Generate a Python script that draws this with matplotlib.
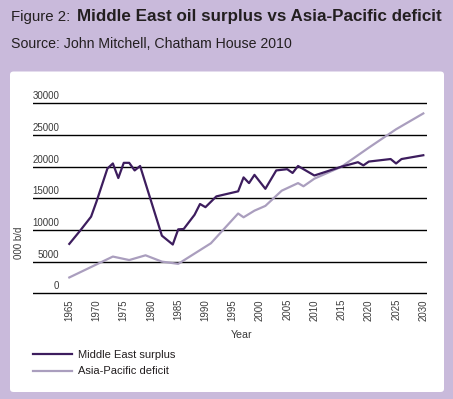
import matplotlib
matplotlib.use("Agg")
import matplotlib.pyplot as plt
from matplotlib import font_manager, transforms
from matplotlib.patches import FancyBboxPatch
from matplotlib.lines import Line2D

# ---------------- data ----------------
me_years = [1965, 1967, 1969, 1970, 1972, 1973, 1974, 1975, 1976, 1977, 1978,
            1982, 1984, 1985, 1986, 1988, 1989, 1990, 1992, 1996, 1997, 1998,
            1999, 2001, 2003, 2005, 2006, 2007, 2010, 2015, 2018, 2019, 2020,
            2024, 2025, 2026, 2030]
me_values = [7800, 9900, 12100, 14500, 19700, 20500, 18200, 20600, 20600, 19400, 20100,
             9100, 7700, 10100, 10150, 12400, 14100, 13600, 15300, 16100, 18300, 17400,
             18700, 16500, 19400, 19600, 19000, 20100, 18600, 20000, 20700, 20200, 20800,
             21200, 20500, 21200, 21800]

ap_years = [1965, 1973, 1976, 1979, 1982, 1985, 1991, 1996, 1997, 1999, 2001,
            2004, 2007, 2008, 2010, 2015, 2020, 2025, 2030]
ap_values = [2500, 5800, 5250, 6000, 5000, 4650, 7900, 12600, 12000, 13050, 13800,
             16200, 17400, 16900, 18100, 20000, 23000, 25900, 28400]

x_ticks = list(range(1965, 2031, 5))
y_ticks = [0, 5000, 10000, 15000, 20000, 25000, 30000]

series_labels = ["Middle East surplus", "Asia-Pacific deficit"]
title_light = "Figure 2: "
title_bold = "Middle East oil surplus vs Asia-Pacific deficit"
subtitle = "Source: John Mitchell, Chatham House 2010"
x_label = "Year"
y_label = "000 b/d"

# ---------------- style ----------------
BG = "#c9badb"
ME_COLOR = "#3d1d5e"
AP_COLOR = "#aa9ebe"
TEXT = "#231f20"
TICK = "#3a3a3a"

def has_font(name):
    try:
        font_manager.findfont(font_manager.FontProperties(family=name),
                              fallback_to_default=False)
        return True
    except Exception:
        return False

FONT = "Liberation Sans" if has_font("Liberation Sans") else "DejaVu Sans"
plt.rcParams["font.family"] = [FONT, "DejaVu Sans"]

W, H = 453, 399
fig = plt.figure(figsize=(W / 100, H / 100), dpi=100)
fig.patch.set_facecolor(BG)
renderer = fig.canvas.get_renderer()

def fx(px):
    return px / W

def fy(py):
    return 1 - py / H

# white panel
panel = FancyBboxPatch((fx(10), fy(392)), fx(434), (392 - 71.5) / H,
                       boxstyle="round,pad=0,rounding_size=0.008",
                       transform=fig.transFigure, fc="white", ec="none", zorder=0)
fig.add_artist(panel)

def fit_text(x, y_base, s, width_px, weight="normal", color=TEXT, ha="left", **kw):
    t = fig.text(fx(x), fy(y_base), s, fontsize=10, fontweight=weight, color=color,
                 ha=ha, va="baseline", **kw)
    w = t.get_window_extent(renderer).width
    t.set_fontsize(10 * width_px / w)
    return t

# title
fit_text(11, 20.7, title_light, 64)
fit_text(11 + 66, 20.7, title_bold, 363.5, weight="bold")
fit_text(11, 48.3, subtitle, 282)

# axes
x_left_px, x_right_px = 33, 427
x0_px, x1_px = 69.3, 423.3          # pixel positions of 1965 and 2030
ppy = (x1_px - x0_px) / 65.0
xmin = 1965 - (x0_px - x_left_px) / ppy
xmax = 2030 + (x_right_px - x1_px) / ppy
y0_px, y30_px = 293.3, 103.3
ppu = (y0_px - y30_px) / 30000.0
ext = 400
ax_bottom_px = y0_px + ext * ppu
ax_top_px = y30_px - ext * ppu
ax = fig.add_axes([fx(x_left_px), fy(ax_bottom_px),
                   (x_right_px - x_left_px) / W, (ax_bottom_px - ax_top_px) / H])
ax.set_facecolor("none")
ax.set_xlim(xmin, xmax)
ax.set_ylim(-ext, 30000 + ext)

ax.plot(ap_years, ap_values, color=AP_COLOR, lw=1.6, zorder=3)
ax.plot(me_years, me_values, color=ME_COLOR, lw=1.6, zorder=4)

for s in ax.spines.values():
    s.set_visible(False)
ax.set_yticks(y_ticks)
ax.yaxis.grid(True, color="black", lw=1.0)
ax.set_axisbelow(True)
ax.tick_params(axis="y", length=0, labelleft=False)

ax.set_xticks(x_ticks)
ax.set_xticklabels([str(v) for v in x_ticks], rotation=90, color=TICK,
                   fontsize=6.9)
ax.tick_params(axis="x", length=0, pad=2.3)

# y tick labels sitting above gridlines, right-aligned
trans = transforms.blended_transform_factory(ax.transAxes, ax.transData)
trans = transforms.offset_copy(trans, fig=fig, x=0, y=4 * 0.72, units="points")
xr = (59.5 - x_left_px) / (x_right_px - x_left_px)
for v in y_ticks:
    ax.text(xr, v, f"{v}", transform=trans, ha="right", va="baseline",
            fontsize=7.0, color=TICK)

# y axis label (rotated)
fig.text(fx(18.5), fy(243), y_label, rotation=90, ha="center", va="center",
         fontsize=7.0, color=TICK)

# x axis label
fit_text(241.7, 337.7, x_label, 21.7, color=TICK, ha="center")

# legend
for (yy, col) in [(354, ME_COLOR), (370.7, AP_COLOR)]:
    fig.add_artist(Line2D([fx(33.3), fx(71.7)], [fy(yy), fy(yy)],
                          color=col, lw=1.6, transform=fig.transFigure))
lt = fit_text(78.3, 357.7, series_labels[0], 96.7, color=TEXT)
fig.text(fx(78.3), fy(374.3), series_labels[1], color=TEXT, va="baseline",
         fontsize=lt.get_fontsize())

fig.savefig("out.png", dpi=100, facecolor=BG)
